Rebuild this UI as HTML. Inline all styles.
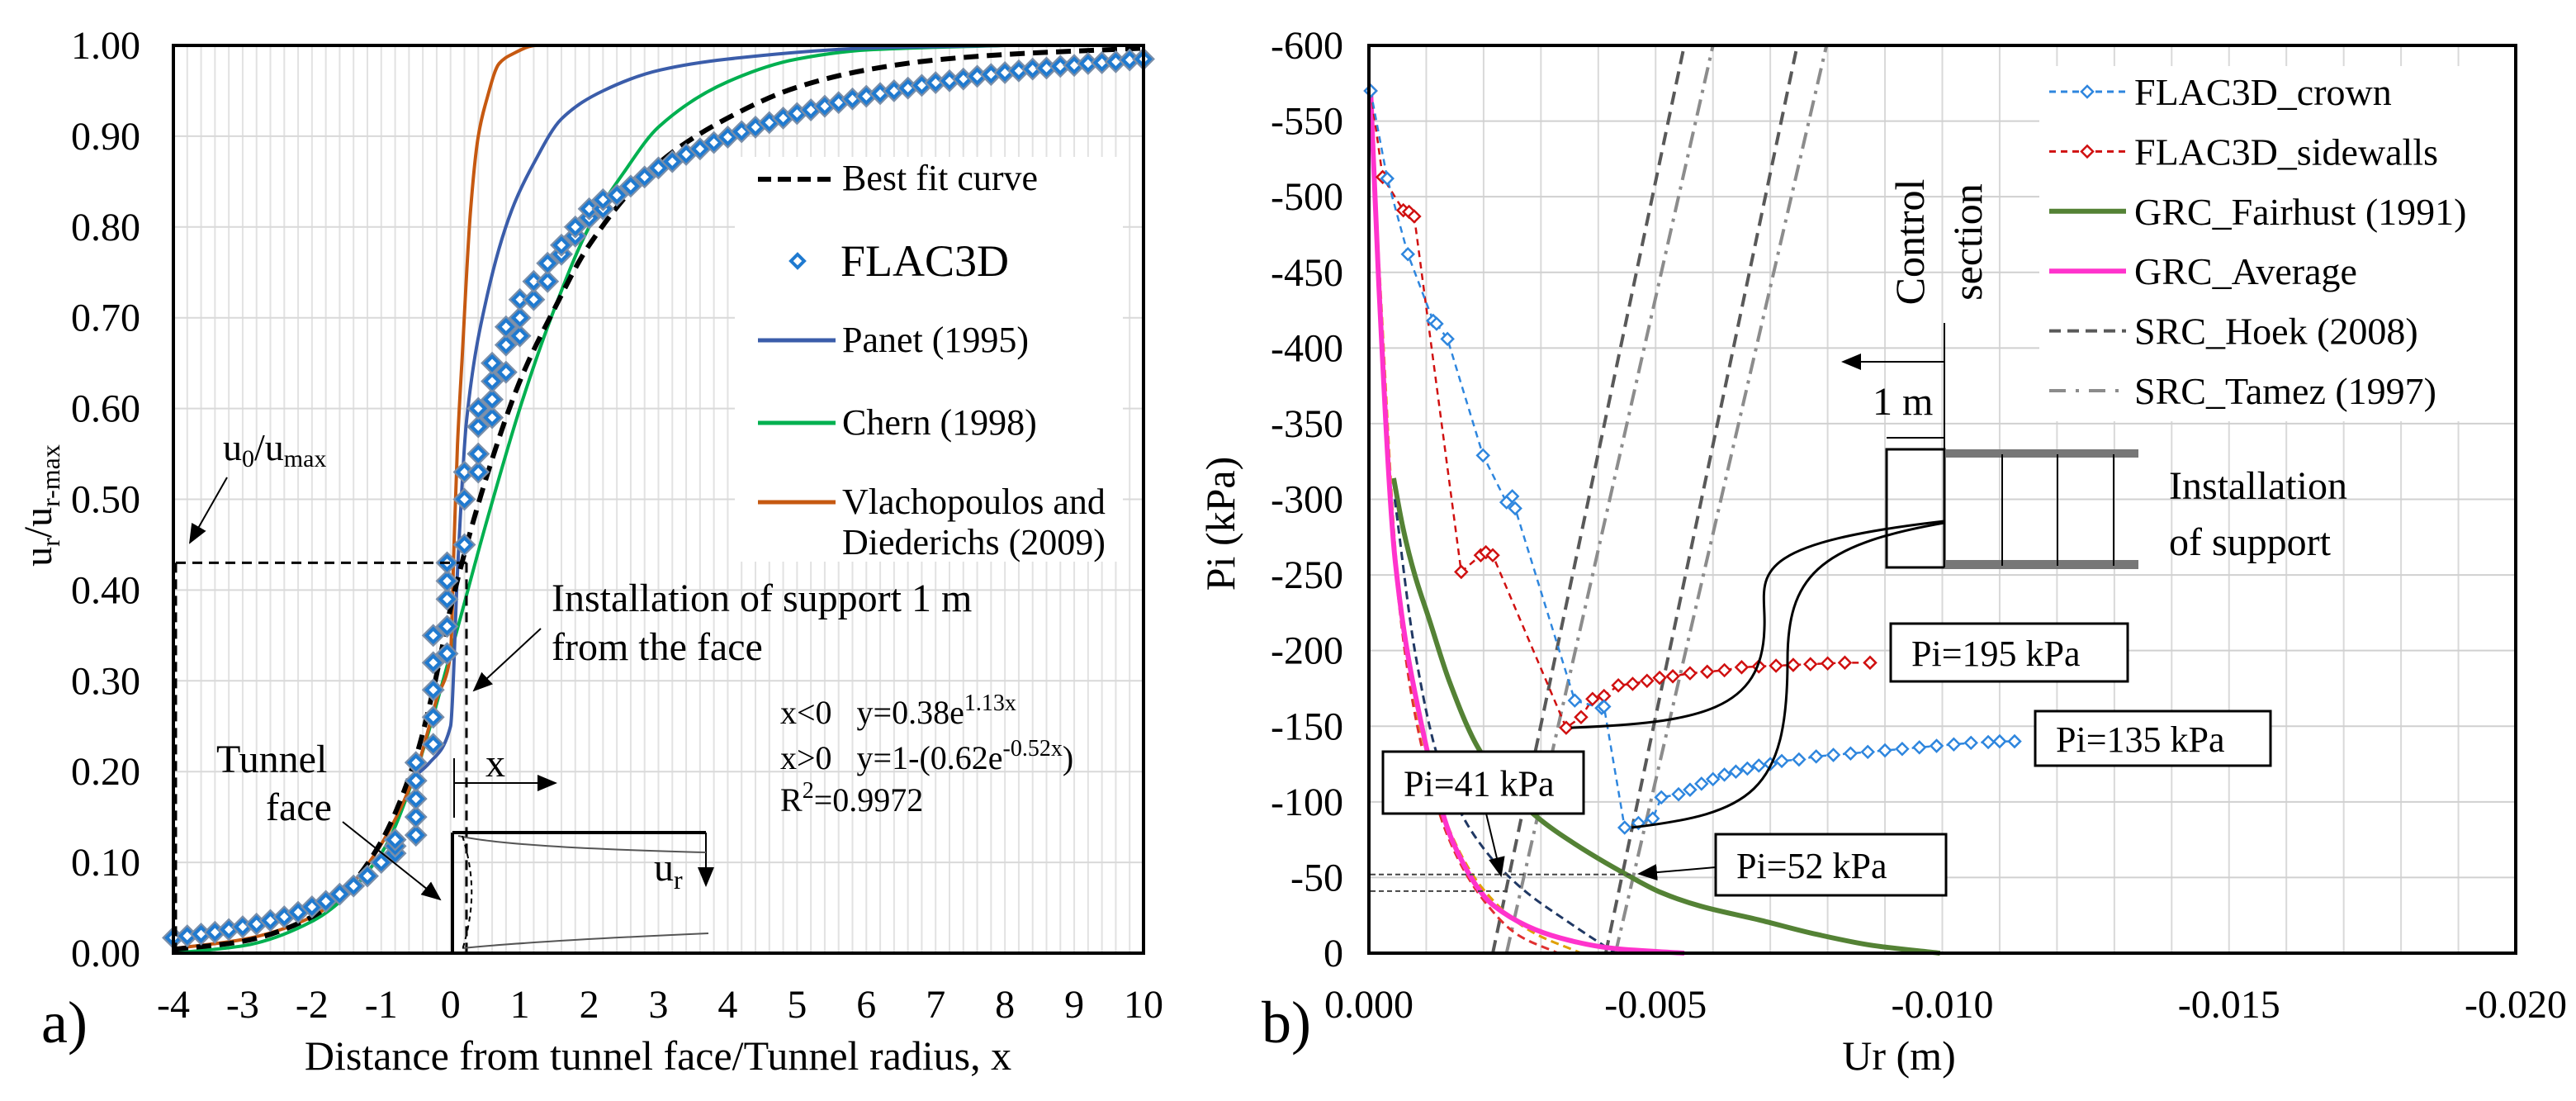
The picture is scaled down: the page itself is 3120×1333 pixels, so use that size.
<!DOCTYPE html>
<html><head><meta charset="utf-8"><style>
html,body{margin:0;padding:0;background:#fff}
svg{display:block;font-family:"Liberation Serif","DejaVu Serif",serif}
text{font-family:"Liberation Serif","DejaVu Serif",serif}
</style></head><body>
<svg id="fig" width="3120" height="1333" viewBox="0 0 3120 1333" xmlns="http://www.w3.org/2000/svg" font-family="Liberation Serif, serif">
<rect width="3120" height="1333" fill="#fff"/>
<g id="gA"></g>
<g id="gB"></g>
</svg>
<script>
// ===== Chart A data =====
const aXTicks = ["-4","-3","-2","-1","0","1","2","3","4","5","6","7","8","9","10"];
const aYTicks = ["0.00","0.10","0.20","0.30","0.40","0.50","0.60","0.70","0.80","0.90","1.00"];
const bestX = [-4,-3,-2,-1.5,-1,-0.5,-0.25,0,0.5,1,1.5,2,3,4,5,6,7,8,10];
const bestY = [0.004,0.013,0.04,0.07,0.123,0.216,0.29,0.38,0.52,0.63,0.71,0.78,0.87,0.92,0.954,0.973,0.984,0.99,0.997];
const panetX = [-0.6,-0.3,0,0.1,0.23,0.53,0.88,1.2,1.6,2.2,3.03,4,6,8];
const panetY = [0.19,0.21,0.25,0.42,0.586,0.725,0.818,0.87,0.919,0.95,0.973,0.985,0.997,1.0];
const chernX = [-4,-3,-2,-1,-0.5,0,0.5,1,1.5,2,2.5,3,4,5,6,8];
const chernY = [0.0,0.008,0.035,0.11,0.2,0.33,0.47,0.6,0.71,0.8,0.86,0.91,0.96,0.985,0.995,1.0];
const vlachX = [-4,-3,-2,-1.5,-1,-0.5,-0.2,0,0.05,0.1,0.17,0.29,0.4,0.52,0.7,0.88,1.24,8];
const vlachY = [0.005,0.015,0.04,0.07,0.12,0.2,0.28,0.33,0.45,0.56,0.66,0.82,0.9,0.94,0.98,0.99,1.0,1.0];
const flacX = [-4,-3.8,-3.6,-3.4,-3.2,-3,-2.8,-2.6,-2.4,-2.2,-2,-1.8,-1.6,-1.4,-1.2,-1.0,-0.8,-0.8,-0.8,-0.5,-0.5,-0.5,-0.5,-0.5,-0.25,-0.25,-0.25,-0.25,-0.25,-0.05,-0.05,-0.05,-0.05,-0.05,0.2,0.2,0.2,0.4,0.4,0.4,0.4,0.6,0.6,0.6,0.6,0.8,0.8,0.8,1.0,1.0,1.0,1.2,1.2,1.4,1.4,1.6,1.6,1.8,1.8,2.0,2.0,2.2,2.2,2.4,2.6,2.8,3.0,3.2,3.4,3.6,3.8,4.0,4.2,4.4,4.6,4.8,5.0,5.2,5.4,5.6,5.8,6.0,6.2,6.4,6.6,6.8,7.0,7.2,7.4,7.6,7.8,8.0,8.2,8.4,8.6,8.8,9.0,9.2,9.4,9.6,9.8,10];
const flacY = [0.017,0.019,0.021,0.023,0.026,0.029,0.032,0.036,0.04,0.045,0.051,0.057,0.065,0.074,0.085,0.1,0.11,0.118,0.125,0.13,0.15,0.17,0.19,0.21,0.23,0.26,0.29,0.32,0.35,0.33,0.36,0.39,0.41,0.43,0.45,0.5,0.53,0.53,0.55,0.58,0.6,0.59,0.61,0.63,0.65,0.64,0.67,0.69,0.68,0.7,0.72,0.72,0.74,0.74,0.76,0.77,0.78,0.79,0.8,0.81,0.82,0.82,0.83,0.835,0.845,0.855,0.865,0.872,0.88,0.886,0.893,0.899,0.905,0.91,0.915,0.92,0.925,0.929,0.933,0.937,0.941,0.944,0.947,0.95,0.953,0.956,0.959,0.961,0.963,0.966,0.968,0.97,0.972,0.974,0.975,0.977,0.978,0.98,0.981,0.982,0.984,0.985];

// ===== Chart B data =====
const bXTicks = ["0.000","-0.005","-0.010","-0.015","-0.020"];
const bYTicks = ["0","-50","-100","-150","-200","-250","-300","-350","-400","-450","-500","-550","-600"];
const crownU = [0.03,0.32,0.68,1.12,1.18,1.37,1.99,2.4,2.5,2.55,3.59,4.06,4.1,4.46,4.7,4.95,5.1,5.4,5.6,5.8,6.0,6.2,6.4,6.6,6.8,7.0,7.2,7.5,7.8,8.1,8.4,8.7,9.0,9.3,9.6,9.9,10.2,10.5,10.8,11.0,11.26];
const crownP = [570,512,462,418,416,406,329,298,302,294,167,162,163,83,86,89,103,105,108,112,115,118,120,122,124,125,127,128,130,131,132,133,134,135,136,137,138,139,139.5,140,140];
const sideU = [0.03,0.24,0.6,0.7,0.79,1.61,1.95,2.04,2.16,3.44,3.7,3.9,4.1,4.35,4.6,4.85,5.07,5.3,5.6,5.9,6.2,6.5,6.8,7.1,7.4,7.7,8.0,8.3,8.74];
const sideP = [570,513,491,490,487,252,263,265,263,149,156,168,170,177,178,180,182,183,185,186,187,189,189.5,190,190.5,191,191.5,192,192];
const fairU = [0.43,0.6,0.8,1.04,1.4,1.9,2.4,2.9,3.6,4.49,5.1,5.79,6.8,7.8,8.8,9.96];
const fairP = [314,280,250,222,180,136,110,91,72,52,40,31,22,12.5,5,0];
const avgU = [0.03,0.17,0.46,0.89,1.47,2.19,3.34,4.3,5.5];
const avgP = [570,444,259,156,73,31,10,3,0];
const grcRedU = [0.03,0.2,0.5,0.9,1.4,2.0,2.6,3.3];
const grcRedP = [560,430,240,140,75,35,12,0];
const grcOrU = [0.03,0.2,0.5,0.9,1.4,2.0,2.8,3.7];
const grcOrP = [560,440,250,148,82,42,15,0];
const grcNavyU = [0.45,0.8,1.2,1.8,2.6,3.5,4.3];
const grcNavyP = [300,200,130,80,45,20,0];
const hoek1U = [2.16,5.5], hoek1P = [0,600];
const hoek2U = [4.13,7.47], hoek2P = [0,600];
const tamez1U = [2.4,6.0], tamez1P = [0,600];
const tamez2U = [4.3,7.98], tamez2P = [0,600];

const NS="http://www.w3.org/2000/svg";
const FF="Liberation Serif, DejaVu Serif, serif";
function mk(parent,tag,attrs,txt){const e=document.createElementNS(NS,tag);for(const k in attrs)e.setAttribute(k,attrs[k]);if(tag==="text")e.setAttribute("font-family",FF);if(txt!==undefined)e.textContent=txt;parent.appendChild(e);return e;}
// monotone cubic (Fritsch-Carlson) through pixel points (x increasing)
function smooth(pts){
  const n=pts.length;
  if(n<3){return "M"+pts.map(p=>p[0].toFixed(1)+","+p[1].toFixed(1)).join("L");}
  const dx=[],m=[],t=new Array(n);
  for(let i=0;i<n-1;i++){dx[i]=pts[i+1][0]-pts[i][0];m[i]=dx[i]===0?0:(pts[i+1][1]-pts[i][1])/dx[i];}
  t[0]=m[0];t[n-1]=m[n-2];
  for(let i=1;i<n-1;i++){t[i]=(m[i-1]*m[i]<=0)?0:(3*(dx[i-1]+dx[i]))/((2*dx[i]+dx[i-1])/m[i-1]+(dx[i]+2*dx[i-1])/m[i]);}
  let d="M"+pts[0][0].toFixed(1)+","+pts[0][1].toFixed(1);
  for(let i=0;i<n-1;i++){const h=dx[i]/3;
    d+="C"+(pts[i][0]+h).toFixed(1)+","+(pts[i][1]+t[i]*h).toFixed(1)+" "+(pts[i+1][0]-h).toFixed(1)+","+(pts[i+1][1]-t[i+1]*h).toFixed(1)+" "+pts[i+1][0].toFixed(1)+","+pts[i+1][1].toFixed(1);}
  return d;}
function diamond(g,x,y,r,stroke,sw,name){const p=mk(g,"polygon",{points:`${x},${y-r} ${x+r},${y} ${x},${y+r} ${x-r},${y}`,fill:"#fff",stroke:stroke,"stroke-width":sw});
  
  
  return p;}

// ===== Chart A =====
const A=document.getElementById('gA');
const ax0=210,ax1=1385,ay0=1154,ay1=55;
const axs=v=>ax0+(v+4)/14*(ax1-ax0);
const ays=v=>ay0-v*(ay0-ay1);
const aGrid=mk(A,"g",{});
for(let i=0;i<=70;i++){const x=ax0+i*(ax1-ax0)/70;mk(aGrid,"line",{x1:x,x2:x,y1:ay1,y2:ay0,stroke:"#e2e2e2","stroke-width":2});}
aYTicks.forEach((t,i)=>{const y=ays(i/10);mk(aGrid,"line",{x1:ax0,x2:ax1,y1:y,y2:y,stroke:"#d9d9d9","stroke-width":2});
  const tl=mk(A,"text",{x:170,y:y+16,"text-anchor":"end","font-size":48},t);
  });
aXTicks.forEach((t,i)=>{const tl=mk(A,"text",{x:axs(+t),y:1232,"text-anchor":"middle","font-size":48},t);
  });
mk(A,"rect",{x:890,y:190,width:470,height:490,fill:"#fff",});
function aLine(xs,ys,color,w,dash,name){const p=mk(A,"path",{d:smooth(xs.map((x,i)=>[axs(x),ays(ys[i])])),fill:"none",stroke:color,"stroke-width":w,"stroke-dasharray":dash||"none"});
  }
aLine(chernX,chernY,"#00B050",4,null,"chern-curve");
aLine(panetX,panetY,"#3B5DAA",4,null,"panet-curve");
aLine(vlachX,vlachY,"#C65911",4,null,"vlachopoulos-curve");
aLine(bestX,bestY,"#000",6,"18,10","best-fit-curve");
const fg=mk(A,"g",{});
flacX.forEach((x,i)=>{diamond(fg,axs(x),ays(flacY[i]),9,"#7a8ea8",7,"flac3d-point-shadow");diamond(fg,axs(x),ays(flacY[i]),8,"#1F7AD0",4,"flac3d-point");});
mk(A,"rect",{x:ax0,y:ay1,width:ax1-ax0,height:ay0-ay1,fill:"none",stroke:"#000","stroke-width":4,});
mk(A,"path",{d:`M213,${ays(0.43)}H565M213,${ays(0.43)}V${ay0}M565,${ays(0.43)}V${ay0}`,fill:"none",stroke:"#000","stroke-width":3,"stroke-dasharray":"12,8",});
mk(A,"defs",{}).innerHTML='<marker id="arb" markerWidth="24" markerHeight="20" refX="22" refY="10" orient="auto" markerUnits="userSpaceOnUse"><path d="M0,0L24,10L0,20z" fill="#000"/></marker>';
mk(A,"path",{d:"M275,578L230,657",stroke:"#000","stroke-width":2,fill:"none","marker-end":"url(#arb)",});
mk(A,"path",{d:"M655,761L574,836",stroke:"#000","stroke-width":2,fill:"none","marker-end":"url(#arb)",});
mk(A,"path",{d:"M415,995L533,1089",stroke:"#000","stroke-width":2,fill:"none","marker-end":"url(#arb)",});
mk(A,"path",{d:"M550,948H673",stroke:"#000","stroke-width":2,fill:"none","marker-end":"url(#arb)",});
mk(A,"path",{d:"M550,918V990",stroke:"#000","stroke-width":2,fill:"none"});
mk(A,"path",{d:"M548,1008H855M548,1008V1154",stroke:"#000","stroke-width":4,fill:"none",});
mk(A,"path",{d:"M855,1008V1072",stroke:"#000","stroke-width":2,fill:"none","marker-end":"url(#arb)",});
mk(A,"path",{d:"M555,1012C600,1022 700,1028 855,1032M560,1148C620,1142 720,1136 858,1130",stroke:"#555","stroke-width":2,fill:"none"});
mk(A,"path",{d:"M560,1012C575,1060 575,1100 560,1150",stroke:"#000","stroke-width":2,"stroke-dasharray":"6,5",fill:"none"});
function txt(g,x,y,size,s,name,anchor,extra){const t=mk(g,"text",Object.assign({x:x,y:y,"font-size":size,"text-anchor":anchor||"start"},extra||{}));t.innerHTML=s;return t;}
txt(A,270,557,46,'u<tspan font-size="30" dy="8">0</tspan><tspan dy="-8">/u</tspan><tspan font-size="30" dy="8">max</tspan>',"u0-label");
txt(A,668,740,48,"Installation of support 1 m","support-label-1");
txt(A,668,799,48,"from the face","support-label-2");
txt(A,945,876,40,'x&lt;0 &#160;&#160;y=0.38e<tspan font-size="28" dy="-16">1.13x</tspan>',"equation-1");
txt(A,945,931,40,'x&gt;0 &#160;&#160;y=1-(0.62e<tspan font-size="28" dy="-16">-0.52x</tspan><tspan dy="16">)</tspan>',"equation-2");
txt(A,945,982,40,'R<tspan font-size="28" dy="-16">2</tspan><tspan dy="16">=0.9972</tspan>',"r-squared");
txt(A,262,935,48,"Tunnel","tunnel-label");
txt(A,322,993,48,"face","face-label");
txt(A,588,940,48,"x","x-label");
txt(A,792,1066,48,'u<tspan font-size="32" dy="10">r</tspan>',"ur-label");
mk(A,"path",{d:"M918,217H1012",stroke:"#000","stroke-width":6,"stroke-dasharray":"16,8",fill:"none",});
txt(A,1020,230,44,"Best fit curve","legend-best-fit");
diamond(A,966,316,8,"#1F7AD0",4,"legend-flac3d-marker");
txt(A,1018,334,54,"FLAC3D","legend-flac3d");
mk(A,"path",{d:"M918,412H1012",stroke:"#3B5DAA","stroke-width":5,fill:"none"});
txt(A,1020,426,44,"Panet (1995)","legend-panet");
mk(A,"path",{d:"M918,512H1012",stroke:"#00B050","stroke-width":5,fill:"none"});
txt(A,1020,526,44,"Chern (1998)","legend-chern");
mk(A,"path",{d:"M918,608H1012",stroke:"#C65911","stroke-width":5,fill:"none"});
txt(A,1020,622,44,"Vlachopoulos and","legend-vlachopoulos-1");
txt(A,1020,671,44,"Diederichs (2009)","legend-vlachopoulos-2");
txt(A,797,1295,50,"Distance from tunnel face/Tunnel radius, x","x-axis-title-a","middle");
txt(A,62,612,48,'u<tspan font-size="32" dy="10">r</tspan><tspan dy="-10">/u</tspan><tspan font-size="32" dy="10">r-max</tspan>',"y-axis-title-a","middle",{transform:"rotate(-90 62 612)"});
txt(A,50,1262,72,"a)","panel-label-a");

// ===== Chart B =====
const B=document.getElementById('gB');
const bx0=1658,bx1=3047,by0=1154,by1=55;
const bxs=mm=>bx0+mm/20*(bx1-bx0);
const bys=p=>by0-p/600*(by0-by1);
const bGrid=mk(B,"g",{});
for(let i=0;i<=20;i++){const x=bxs(i);mk(bGrid,"line",{x1:x,x2:x,y1:by1,y2:by0,stroke:"#d9d9d9","stroke-width":2});}
bYTicks.forEach((t,i)=>{const y=bys(i*50);mk(bGrid,"line",{x1:bx0,x2:bx1,y1:y,y2:y,stroke:"#d0d0d0","stroke-width":2});
  const tl=mk(B,"text",{x:1627,y:y+16,"text-anchor":"end","font-size":48},t);
  });
bXTicks.forEach((t,i)=>{const tl=mk(B,"text",{x:bxs(i*5),y:1232,"text-anchor":"middle","font-size":48},t);
  });
mk(B,"rect",{x:2470,y:80,width:575,height:430,fill:"#fff",});
function bLine(us,ps,color,w,dash,name,straight){const pts=us.map((u,i)=>[bxs(u),bys(ps[i])]);
  const p=mk(B,"path",{d:straight?"M"+pts.map(q=>q.join(",")).join("L"):smooth(pts),fill:"none",stroke:color,"stroke-width":w,"stroke-dasharray":dash||"none"});
  }
bLine(hoek1U,hoek1P,"#595959",4,"16,9","src-hoek-line-1",true);
bLine(hoek2U,hoek2P,"#595959",4,"16,9","src-hoek-line-2",true);
bLine(tamez1U,tamez1P,"#8c8c8c",4,"20,8,4,8","src-tamez-line-1",true);
bLine(tamez2U,tamez2P,"#8c8c8c",4,"20,8,4,8","src-tamez-line-2",true);
bLine(fairU,fairP,"#548235",6,null,"grc-fairhurst-curve");
bLine(grcNavyU,grcNavyP,"#203864",3,"10,6","grc-navy-curve");
bLine(grcRedU,grcRedP,"#E03030",3,"10,6","grc-red-curve");
bLine(grcOrU,grcOrP,"#E0A000",3,"10,6","grc-orange-curve");
bLine(avgU,avgP,"#FF33CC",6,null,"grc-average-curve");
bLine(sideU,sideP,"#D01010",2.5,"8,6","flac3d-sidewalls-line",true);
bLine(crownU,crownP,"#2E86DE",2.5,"8,6","flac3d-crown-line",true);
const sg=mk(B,"g",{});
sideU.forEach((u,i)=>diamond(sg,bxs(u),bys(sideP[i]),7,"#D01010",2.5,"sidewalls-point"));
const cg=mk(B,"g",{});
crownU.forEach((u,i)=>diamond(cg,bxs(u),bys(crownP[i]),7,"#2E86DE",2.5,"crown-point"));
mk(B,"rect",{x:bx0,y:by1,width:bx1-bx0,height:by0-by1,fill:"none",stroke:"#000","stroke-width":4,});
const lg=[["#2E86DE","8,6",3,"FLAC3D_crown",1],["#D01010","8,6",3,"FLAC3D_sidewalls",1],["#548235","",6,"GRC_Fairhust (1991)",0],["#FF33CC","",6,"GRC_Average",0],["#595959","14,8",4,"SRC_Hoek (2008)",0],["#8c8c8c","20,12,4,12",4,"SRC_Tamez (1997)",0]];
lg.forEach((e,i)=>{const y=111+i*72.4;mk(B,"path",{d:`M2482,${y}H2575`,stroke:e[0],"stroke-width":e[2],"stroke-dasharray":e[1]||"none",fill:"none"});
  if(e[4])diamond(B,2528,y,7,e[0],2.5,"legend-marker");
  txt(B,2585,y+16,46,e[3],"legend-entry");});
mk(B,"path",{d:"M2355,391V544M2355,438H2232",stroke:"#000","stroke-width":2,fill:"none","marker-end":"url(#arb)",});
txt(B,2268,502,48,"1 m","one-m-label");
txt(B,2330,293,50,"Control","control-label","middle",{transform:"rotate(-90 2330 293)"});
txt(B,2400,293,50,"section","section-label","middle",{transform:"rotate(-90 2400 293)"});
mk(B,"rect",{x:2285,y:544,width:70,height:143,fill:"none",stroke:"#000","stroke-width":3,});
mk(B,"rect",{x:2355,y:544,width:235,height:10,fill:"#777"});
mk(B,"rect",{x:2355,y:678,width:235,height:11,fill:"#777"});
mk(B,"path",{d:"M2355,544V687M2425,550V685M2492,550V685M2560,550V685M2285,530H2355",stroke:"#000","stroke-width":2,fill:"none"});
txt(B,2627,604,48,"Installation","installation-label");
txt(B,2627,672,48,"of support","of-support-label");
mk(B,"path",{d:`M2355,631C2100,660 2140,700 2137,760C2135,860 2060,875 1903,${bys(149)}`,stroke:"#000","stroke-width":3,fill:"none",});
mk(B,"path",{d:`M2355,633C2200,660 2165,700 2165,800C2165,960 2120,985 1976,${bys(83)}`,stroke:"#000","stroke-width":3,fill:"none",});
function box(x,y,w,h,label,name){mk(B,"rect",{x:x,y:y,width:w,height:h,fill:"#fff",stroke:"#000","stroke-width":3,});
  txt(B,x+25,y+h/2+16,44,label,name+"-text");}
box(2290,755,287,70,"Pi=195 kPa","box-pi-195");
box(2465,861,285,66,"Pi=135 kPa","box-pi-135");
box(1675,910,243,75,"Pi=41 kPa","box-pi-41");
box(2078,1010,279,74,"Pi=52 kPa","box-pi-52");
mk(B,"path",{d:"M1800,985L1818,1060",stroke:"#000","stroke-width":2,fill:"none","marker-end":"url(#arb)"});
mk(B,"path",{d:"M2078,1050L1985,1058",stroke:"#000","stroke-width":2,fill:"none","marker-end":"url(#arb)"});
mk(B,"path",{d:`M1660,${bys(52)}H1975M1660,${bys(41)}H1830`,stroke:"#444","stroke-width":2,"stroke-dasharray":"6,4",fill:"none",});
txt(B,2300,1295,50,"Ur (m)","x-axis-title-b","middle");
txt(B,1495,634,50,"Pi (kPa)","y-axis-title-b","middle",{transform:"rotate(-90 1495 634)"});
txt(B,1528,1262,72,"b)","panel-label-b");
</script>
</body></html>
